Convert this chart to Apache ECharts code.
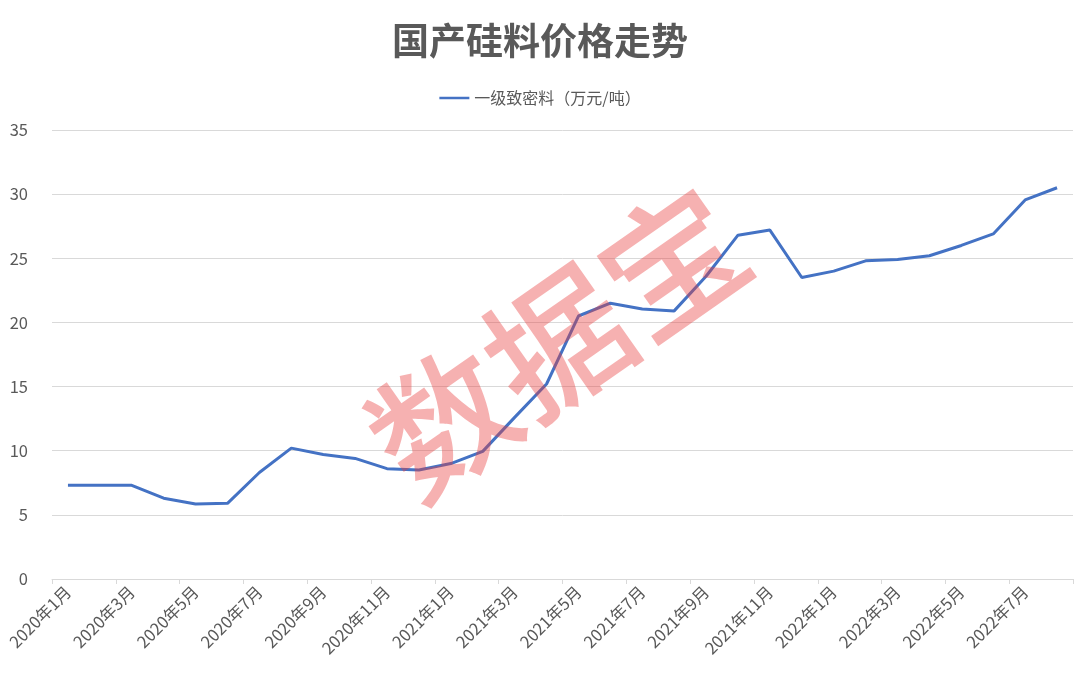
<!DOCTYPE html>
<html>
<head>
<meta charset="utf-8">
<script src="https://cdn.jsdelivr.net/npm/echarts@6/dist/echarts.min.js"></script>
<style>html,body{margin:0;padding:0;background:#fff;}#c{width:1080px;height:683px;}</style>
</head>
<body>
<div id="c"></div>
<script>
const months = ['2020年1月','2020年2月','2020年3月','2020年4月','2020年5月','2020年6月','2020年7月','2020年8月','2020年9月','2020年10月','2020年11月','2020年12月',
  '2021年1月','2021年2月','2021年3月','2021年4月','2021年5月','2021年6月','2021年7月','2021年8月','2021年9月','2021年10月','2021年11月','2021年12月',
  '2022年1月','2022年2月','2022年3月','2022年4月','2022年5月','2022年6月','2022年7月','2022年8月'];
const seriesName = '一级致密料（万元/吨）';
const prices = [7.3, 7.3, 7.3, 6.3, 5.85, 5.9, 8.3, 10.2, 9.7, 9.4, 8.6, 8.5,
  9.0, 9.95, 12.6, 15.2, 20.5, 21.5, 21.05, 20.9, 23.6, 26.8, 27.2, 23.5,
  24.0, 24.8, 24.9, 25.2, 26.0, 26.9, 29.55, 30.5];
const yTicks = [0, 5, 10, 15, 20, 25, 30, 35];
const titleText = '国产硅料价格走势';
const watermark = '数据宝';

const FONT = '"Noto Sans CJK SC", "Noto Sans", sans-serif';
const chart = echarts.init(document.getElementById('c'), null, {renderer: 'canvas'});
chart.setOption({
  backgroundColor: '#ffffff',
  animation: false,
  title: {
    text: titleText, left: 'center', top: 17,
    textStyle: {fontFamily: FONT, fontSize: 37, fontWeight: 'bold', color: '#595959'}
  },
  legend: {
    top: 85, left: 'center', itemWidth: 30, itemHeight: 10, itemGap: 4,
    icon: 'path://M0,4 L30,4 L30,6.5 L0,6.5 Z',
    data: [seriesName],
    textStyle: {fontFamily: FONT, fontSize: 16, color: '#595959'}
  },
  grid: {left: 52, right: 7, top: 130, bottom: 104, containLabel: false},
  xAxis: {
    type: 'category', data: months, boundaryGap: true,
    axisLine: {lineStyle: {color: '#d9d9d9', width: 1}},
    axisTick: {show: true, interval: 1, length: 5, lineStyle: {color: '#d9d9d9'}},
    axisLabel: {interval: 1, rotate: 45, margin: 10, fontFamily: FONT, fontSize: 16.5, color: '#595959'}
  },
  yAxis: {
    type: 'value', min: yTicks[0], max: yTicks[yTicks.length - 1], interval: 5,
    axisLine: {show: false}, axisTick: {show: false},
    splitLine: {lineStyle: {color: '#d9d9d9', width: 1}},
    axisLabel: {margin: 24, fontFamily: FONT, fontSize: 16.5, color: '#595959'}
  },
  series: [{
    name: seriesName, type: 'line', data: prices,
    showSymbol: false, symbol: 'none', smooth: false,
    lineStyle: {color: '#4472c4', width: 3},
    itemStyle: {color: '#4472c4'}
  }],
  graphic: [{
    type: 'text', x: 558, y: 342, rotation: 0.61, z: 100,
    style: {
      text: watermark, x: 0, y: 0, align: 'center', verticalAlign: 'middle',
      font: '500 140px ' + FONT, fill: 'rgba(232, 60, 60, 0.4)'
    }
  }]
});
</script>
</body>
</html>
